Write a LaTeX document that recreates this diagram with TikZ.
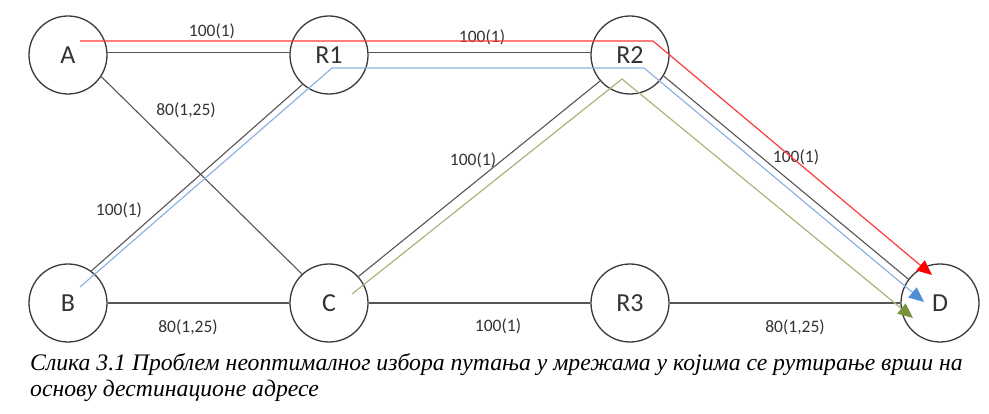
\documentclass[tikz,border=0pt]{standalone}
\usepackage{fontspec}
\setsansfont{Carlito}
\newfontfamily\capfont{Liberation Serif}[Script=Cyrillic,Language=Serbian]
\usetikzlibrary{positioning,calc,arrows.meta}
\definecolor{linkcolor}{HTML}{555555}
\definecolor{nodecolor}{HTML}{3A3A3A}
\definecolor{textcolor}{HTML}{333333}
\definecolor{redpath}{HTML}{FF3838}
\definecolor{redhead}{HTML}{FF0000}
\definecolor{bluepath}{HTML}{8DB3E2}
\definecolor{bluehead}{HTML}{4F8DD6}
\definecolor{greenpath}{HTML}{A3B87A}
\definecolor{greenhead}{HTML}{77933C}

\begin{document}
\begin{tikzpicture}[x=1pt,y=-1pt,node distance=261pt,
    router/.style={circle,draw=nodecolor,line width=1.3pt,minimum size=78pt,inner sep=0pt,text=textcolor,font=\sffamily\fontsize{26}{30}\selectfont},
    link/.style={linkcolor,line width=1.1pt},
    weight/.style={inner sep=0pt,text=textcolor,font=\sffamily\fontsize{17.5}{20}\selectfont},
    route/.style={line width=1.2pt}]
    \useasboundingbox (0,0) rectangle (989,414);
    % Noderna
    \node (A) [router] at (68,55) {A};
    \node (R1) [router, right of=A] {R1};
    \node (R2) [router, right of=R1, xshift=40pt] {R2};
    \node (B) [router, below of=A, yshift=13pt] {B};
    \node (C) [router, right of=B] {C};
    \node (R3) [router, right of=C, xshift=40pt] {R3};
    \node (D) [router, right of=R3, xshift=49pt] {D};
    % Länkar
    \draw [link] (A.3) -- (R1.177);
    \draw [link] (R1.3) -- (R2.177);
    \draw [link] (A.-33) -- (C.133);
    \draw [link] (B.54) -- (R1.228);
    \draw [link] (C.42) -- (R2.221);
    \draw [link] (R2.-32) -- (D.143);
    \draw [link] (B) -- (C);
    \draw [link] (C) -- (R3);
    \draw [link] (R3) -- (D);
    % Vikter
    \node (wAR1) [weight] at (212,31) {100(1)};
    \node (wR1R2) [weight] at (482,37) {100(1)};
    \node (wAC) [weight] at (186,110) {80(1,25)};
    \node (wBR1) [weight] at (119,210) {100(1)};
    \node (wCR2) [weight] at (473,160) {100(1)};
    \node (wR2D) [weight] at (796,157) {100(1)};
    \node (wBC) [weight] at (188,327) {80(1,25)};
    \node (wCR3) [weight] at (498,326) {100(1)};
    \node (wR3D) [weight] at (795,327) {80(1,25)};
    % Vägar
    \coordinate (redS) at ($(A)+(12,-14)$);
    \coordinate (redK) at ($(R2)+(23,-14)$);
    \coordinate (redT) at ($(D)+(-8,-28)$);
    \coordinate (blueS) at ($(B)+(12,-16)$);
    \coordinate (blueK) at ($(R1)+(3,13)$);
    \coordinate (blueL) at ($(R2)+(14,13)$);
    \coordinate (blueT) at ($(D)+(-16,-1)$);
    \coordinate (greenS) at ($(C)+(23,-9)$);
    \coordinate (greenK) at ($(R2)+(-8,24)$);
    \coordinate (greenT) at ($(D)+(-27,15)$);
    \draw [route,redpath,-{Triangle[length=15pt,width=13pt,color=redhead]}] (redS) -- (redK) -- (redT);
    \draw [route,bluepath,-{Triangle[length=15pt,width=13pt,color=bluehead]}] (blueS) -- (blueK) -- (blueL) -- (blueT);
    \draw [route,greenpath,-{Triangle[length=15pt,width=13pt,color=greenhead]}] (greenS) -- (greenK) -- (greenT);
    % Bildtext
    \node (cap) [anchor=north west, inner sep=0pt, align=left, font=\capfont\itshape\fontsize{23.7}{26}\selectfont] at (30,353)
        {Слика 3.1 Проблем неоптималног избора путања у мрежама у којима се рутирање врши на\\основу дестинационе адресе};
\end{tikzpicture}
\end{document}
